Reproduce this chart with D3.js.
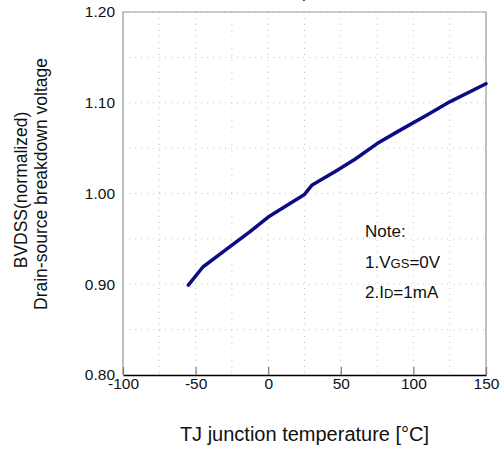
<!DOCTYPE html>
<html>
<head>
<meta charset="utf-8">
<script src="https://cdn.jsdelivr.net/npm/d3@7"></script>
<style>
  body { margin: 0; background: #fff; }
  svg { display: block; font-family: "Liberation Sans", Arial, sans-serif; }
</style>
</head>
<body>
<script>
// curve: junction temperature vs normalized BVDSS
var temps = [-55, -45, -30, -12.5, 0, 15, 25, 30, 47, 60, 75, 90, 110, 125, 150];
var bvdss = [0.899, 0.919, 0.937, 0.958, 0.974, 0.989, 0.999, 1.009, 1.025, 1.038, 1.055, 1.069, 1.087, 1.101, 1.121];

var xTicks = [-100, -50, 0, 50, 100, 150];
var yTicks = [0.80, 0.90, 1.00, 1.10, 1.20];
var xGrid = d3.range(-100, 151, 25);
var yGrid = [0.80, 0.85, 0.90, 0.95, 1.00, 1.05, 1.10, 1.15, 1.20];

var margin = {top: 12, right: 14, bottom: 75, left: 123},
  w = 500 - margin.left - margin.right,
  h = 450 - margin.top - margin.bottom;

var fontFam = '"Liberation Sans", Arial, sans-serif';

var svg = d3.select('body').append('svg')
  .attr('width', 500)
  .attr('height', 450);

var g = svg.append('g')
  .attr('transform', 'translate(' + margin.left + ',' + margin.top + ')');

var xScale = d3.scaleLinear().domain([-100, 150]).range([0, w]);
var yScale = d3.scaleLinear().domain([0.8, 1.2]).range([h, 0]);

// dotted grid
g.selectAll('.vgrid')
  .data(xGrid)
  .enter()
  .append('line')
  .attr('x1', function(d) { return xScale(d); })
  .attr('x2', function(d) { return xScale(d); })
  .attr('y1', 0)
  .attr('y2', h)
  .attr('stroke', '#c8c8c8')
  .attr('stroke-dasharray', '1,5');

g.selectAll('.hgrid')
  .data(yGrid)
  .enter()
  .append('line')
  .attr('x1', 0)
  .attr('x2', w)
  .attr('y1', function(d) { return yScale(d); })
  .attr('y2', function(d) { return yScale(d); })
  .attr('stroke', '#c8c8c8')
  .attr('stroke-dasharray', '1,5');

// frame
g.append('path')
  .attr('d', 'M0,' + h + 'V0H' + w + 'V' + h)
  .attr('fill', 'none')
  .attr('stroke', '#999')
  .attr('stroke-width', 1.2);

// x axis, ticks pointing inward, plain hyphen for negatives
var xAxis = g.append('g')
  .attr('transform', 'translate(0,' + h + ')')
  .call(d3.axisBottom(xScale).tickValues(xTicks).tickSize(-8).tickPadding(3).tickSizeOuter(0)
    .tickFormat(function(d) { return String(d); }));
xAxis.select('.domain').attr('stroke', '#000').attr('stroke-width', 1.5);
xAxis.selectAll('.tick line').attr('stroke', '#777').attr('stroke-width', 1.2);
xAxis.selectAll('text').attr('font-size', '15.5px').attr('fill', '#111')
  .attr('font-family', fontFam);

var yAxis = g.append('g')
  .call(d3.axisLeft(yScale).tickValues(yTicks).tickSize(0).tickPadding(8)
    .tickFormat(d3.format('.2f')));
yAxis.select('.domain').remove();
yAxis.selectAll('text').attr('font-size', '15.5px').attr('fill', '#111')
  .attr('font-family', fontFam);

// the curve
var pts = temps.map(function(t, i) { return [t, bvdss[i]]; });
var line = d3.line()
  .x(function(d) { return xScale(d[0]); })
  .y(function(d) { return yScale(d[1]); });

g.append('path')
  .datum(pts)
  .attr('d', line)
  .attr('fill', 'none')
  .attr('stroke', '#0c0c82')
  .attr('stroke-width', 3.5)
  .attr('stroke-linejoin', 'round')
  .attr('stroke-linecap', 'round');

// note
var note = g.append('g').attr('font-size', '17px').attr('fill', '#111');
note.append('text').attr('x', xScale(66.7)).attr('y', yScale(0.952)).text('Note:');
var n1 = note.append('text').attr('x', xScale(66.7)).attr('y', yScale(0.918));
n1.append('tspan').text('1.V');
n1.append('tspan').attr('font-size', '13px').text('GS');
n1.append('tspan').text('=0V');
var n2 = note.append('text').attr('x', xScale(66.7)).attr('y', yScale(0.885));
n2.append('tspan').text('2.I');
n2.append('tspan').attr('font-size', '13px').text('D');
n2.append('tspan').text('=1mA');

// title, mostly cut off at the top edge
svg.append('text')
  .attr('x', margin.left + w / 2)
  .attr('y', -2)
  .attr('text-anchor', 'middle')
  .attr('font-size', '17px')
  .attr('fill', '#111')
  .text('vs. Temperature');

// axis titles
svg.append('text')
  .attr('x', margin.left + w / 2)
  .attr('y', 441)
  .attr('text-anchor', 'middle')
  .attr('font-size', '20px')
  .attr('fill', '#111')
  .text('TJ junction temperature [°C]');

svg.append('text')
  .attr('transform', 'translate(27,190) rotate(-90)')
  .attr('text-anchor', 'middle')
  .attr('font-size', '17.5px')
  .attr('fill', '#111')
  .text('BVDSS(normalized)');

svg.append('text')
  .attr('transform', 'translate(47,184) rotate(-90)')
  .attr('text-anchor', 'middle')
  .attr('font-size', '17.5px')
  .attr('fill', '#111')
  .text('Drain-source breakdown voltage');
</script>
</body>
</html>
